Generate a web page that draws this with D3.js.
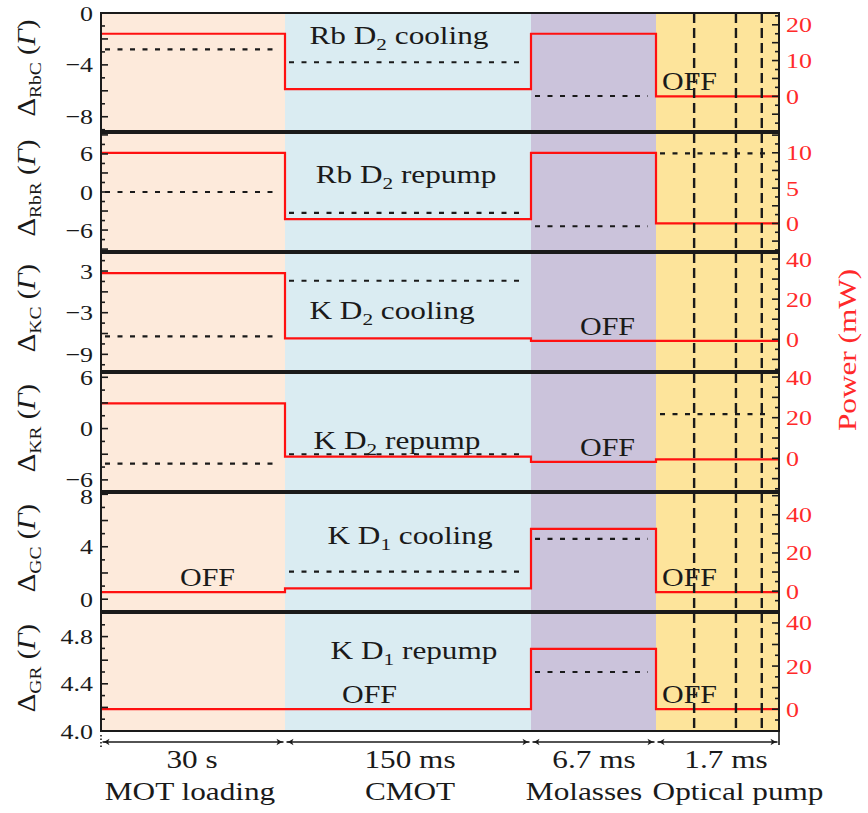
<!DOCTYPE html>
<html><head><meta charset="utf-8">
<script src="https://cdn.jsdelivr.net/npm/d3@7"></script>
<style>body{margin:0;background:#fff} svg{display:block}</style>
</head><body><svg id="c" width="868" height="813"></svg>
<script>
// ---------------- data ----------------
const phases = ["MOT loading", "CMOT", "Molasses", "Optical pump"];
const durations = ["30 s", "150 ms", "6.7 ms", "1.7 ms"];
const beamNames = [["Rb D", "2", " cooling"], ["Rb D", "2", " repump"], ["K D", "2", " cooling"],
                   ["K D", "2", " repump"], ["K D", "1", " cooling"], ["K D", "1", " repump"]];
const detuneSubs = ["RbC", "RbR", "KC", "KR", "GC", "GR"];
// laser power (mW) in each phase
const powerRbC = [17.5, 2, 17.5, 0];
const powerRbR = [10, 0.6, 10, 0];
const powerKC  = [33, 0.5, -0.8, -0.8];
const powerKR  = [27, 0.8, -1.8, -0.5];
const powerGC  = [-0.5, 1.5, 32.6, -0.5];
const powerGR  = [0, 0, 28, 0];
// detuning (Gamma) in each phase, null = beam off
const detRbC = [-2.8, -3.8, -6.4, null];
const detRbR = [0, -3.3, -5.4, 6.1];
const detKC  = [-6.4, 1.6, null, null];
const detKR  = [-4.1, -3.0, null, 1.7];
const detGC  = [null, 2.1, 4.6, null];
const detGR  = [null, null, 4.5, null];
// axes
const detDomains = [[-9.1, 0], [-9.3, 9.3], [-11.4, 5.6], [-7.3, 6.5], [-0.9, 8.1], [4.0, 5.0]];
const detTicks = [[0, -4, -8], [6, 0, -6], [3, -3, -9], [6, 0, -6], [8, 4, 0], [4.8, 4.4, 4.0]];
const powDomains = [[-9.7, 23.3], [-3.9, 12.8], [-15.8, 43], [-16.1, 42], [-10.4, 51.4], [-10.1, 44.6]];
const powTicks = [[0, 10, 20], [0, 5, 10], [0, 20, 40], [0, 20, 40], [0, 20, 40], [0, 20, 40]];
// "OFF" annotations: [panel, phase]
const offLabels = [[0, 3], [2, 2], [3, 2], [4, 0], [4, 3], [5, 1], [5, 3]];
// optical pumping pulse markers (in phase units)
const pumpPulses = [3.31, 3.65, 3.86];

const powers = [powerRbC, powerRbR, powerKC, powerKR, powerGC, powerGR];
const detunings = [detRbC, detRbR, detKC, detKR, detGC, detGR];

// ---------------- layout ----------------
const bounds = [101, 285, 531, 656, 779];
const panelTop0 = 13, pitch = 120, panelH = 118;
const phaseColors = ["#fdeadb", "#daecf2", "#cbc3db", "#fde49b"];
const beamLabelX = [399, 406, 392, 397, 410, 414];
const beamLabelDy = [31, 50, 66, 76, 51, 46];
const offDx = [79, 57, 49, 6];
const serif = "'Liberation Serif','Times New Roman',serif";
const ink = "#1a1a1a";

const svg = d3.select("#c");
const x = d3.scaleLinear().domain([0, 1, 2, 3, 4]).range(bounds);

function label(sel, px, py, parts, o = {}) {
  const size = o.size || 25;
  const t = sel.append("text")
    .attr("transform", `translate(${px},${py}) rotate(${o.rot || 0}) scale(${o.sx || 1.25},1)`)
    .attr("text-anchor", o.anchor || "middle")
    .attr("font-family", serif).attr("font-size", size)
    .attr("fill", o.fill || ink);
  let inSub = false;
  parts.forEach(p => {
    const [str, kind] = Array.isArray(p) ? p : [p, "n"];
    const ts = t.append("tspan").text(str);
    if (kind === "sub") {
      ts.attr("font-size", size * 0.68).attr("dy", size * 0.24);
      inSub = true;
    } else {
      if (inSub) { ts.attr("dy", -size * 0.24); inSub = false; }
      if (kind === "it") ts.attr("font-style", "italic");
    }
  });
  return t;
}
const fmt = v => (v < 0 ? "\u2212" : "") + Math.abs(v);

const arrowDefs = svg.append("defs");
arrowDefs.append("marker").attr("id", "ah").attr("viewBox", "-8 -4 9 8")
  .attr("refX", 0).attr("refY", 0).attr("markerWidth", 9).attr("markerHeight", 8)
  .attr("markerUnits", "userSpaceOnUse").attr("orient", "auto-start-reverse")
  .append("path").attr("d", "M-7,-3.2 Q-3,-0.5 0,0 Q-3,0.5 -7,3.2 L-5.5,0 Z").attr("fill", ink);

powers.forEach((pw, k) => {
  const top = panelTop0 + pitch * k, bot = top + panelH;
  const g = svg.append("g");
  const yL = d3.scaleLinear().domain(detDomains[k]).range([bot, top]);
  const yR = d3.scaleLinear().domain(powDomains[k]).range([bot, top]);

  // phase backgrounds
  g.selectAll("rect.bg").data(phases).join("rect")
    .attr("x", (d, i) => x(i)).attr("width", (d, i) => x(i + 1) - x(i))
    .attr("y", top).attr("height", panelH).attr("fill", (d, i) => phaseColors[i]);

  // detuning (dotted)
  detunings[k].forEach((d, i) => {
    if (d === null) return;
    g.append("line").attr("x1", x(i) + 4).attr("x2", x(i + 1) - 8)
      .attr("y1", yL(d)).attr("y2", yL(d))
      .attr("stroke", ink).attr("stroke-width", 2.2).attr("stroke-dasharray", "5,7.5");
  });

  // power (red step line)
  const pts = pw.map((p, i) => [i, p]).concat([[4, pw[pw.length - 1]]]);
  g.append("path").datum(pts)
    .attr("d", d3.line().x(d => x(d[0])).y(d => yR(d[1])).curve(d3.curveStepAfter))
    .attr("fill", "none").attr("stroke", "#ff1010").attr("stroke-width", 2.2);

  // beam name
  const nm = beamNames[k];
  label(g, beamLabelX[k], top + beamLabelDy[k], [nm[0], [nm[1], "sub"], nm[2]]);

  // OFF labels
  offLabels.filter(o => o[0] === k).forEach(o => {
    const ph = o[1];
    label(g, x(ph) + offDx[ph], yR(pw[ph]) - 6, ["OFF"], { anchor: "start", sx: 1.2 });
  });

  // frame
  g.append("rect").attr("x", bounds[0]).attr("y", top).attr("width", bounds[4] - bounds[0])
    .attr("height", panelH).attr("fill", "none").attr("stroke", ink).attr("stroke-width", 2);

  // left ticks
  const lt = detTicks[k], lstep = Math.abs(lt[0] - lt[1]) / 4;
  const ld = detDomains[k];
  for (let n = Math.ceil(ld[0] / lstep - 1e-6); n <= Math.floor(ld[1] / lstep + 1e-6); n++) {
    const yy = yL(n * lstep);
    if (yy < top + 1 || yy > bot - 1) continue;
    g.append("line").attr("x1", bounds[0]).attr("x2", bounds[0] + (n % 2 === 0 ? 7 : 4))
      .attr("y1", yy).attr("y2", yy).attr("stroke", ink).attr("stroke-width", 1.6);
  }
  lt.forEach(v => {
    const yy = yL(v);
    const nudge = (k > 0 && yy - top < 4) ? 2.5 : 0;
    label(g, 93, yy + 7.5 + nudge, [k === 5 ? v.toFixed(1) : fmt(v)], { anchor: "end", size: 22, sx: 1.18 });
  });

  // right ticks
  const rt = powTicks[k], rstep = Math.abs(rt[1] - rt[0]) / 4;
  const rd = powDomains[k];
  for (let n = Math.ceil(rd[0] / rstep); n <= Math.floor(rd[1] / rstep); n++) {
    const yy = yR(n * rstep);
    if (yy < top + 1 || yy > bot - 1) continue;
    g.append("line").attr("x1", bounds[4]).attr("x2", bounds[4] - (n % 2 === 0 ? 7 : 4))
      .attr("y1", yy).attr("y2", yy).attr("stroke", ink).attr("stroke-width", 1.6);
  }
  rt.forEach(v => {
    label(g, 786, yR(v) + 7.5, [fmt(v)], { anchor: "start", size: 22, sx: 1.18, fill: "#ff2a2a" });
  });

  // left axis title
  label(g, 35, (top + bot) / 2 - 4, ["\u0394", [detuneSubs[k], "sub"], " (", ["\u0393", "it"], ")"],
    { rot: -90, sx: 1.15 });
});

const lastBot = panelTop0 + pitch * 5 + panelH;

// optical pumping pulse markers
svg.selectAll("line.pulse").data(pumpPulses).join("line")
  .attr("x1", d => x(d)).attr("x2", d => x(d))
  .attr("y1", panelTop0).attr("y2", lastBot)
  .attr("stroke", ink).attr("stroke-width", 2.4).attr("stroke-dasharray", "10,5");

// right axis title
label(svg, 856, 350, ["Power (mW)"], { rot: -90, fill: "#ff2a2a", sx: 1.25 });

// time line
const ty = lastBot + 11;
svg.selectAll("line.seg").data(phases).join("line")
  .attr("x1", (d, i) => x(i) + 1.5).attr("x2", (d, i) => x(i + 1) - 1.5)
  .attr("y1", ty).attr("y2", ty).attr("stroke", ink).attr("stroke-width", 1.6)
  .attr("marker-start", "url(#ah)").attr("marker-end", "url(#ah)");
svg.append("line").attr("x1", bounds[0]).attr("x2", bounds[0]).attr("y1", lastBot + 4).attr("y2", ty + 6)
  .attr("stroke", ink).attr("stroke-width", 1.6).attr("stroke-dasharray", "1.5,2");
svg.append("line").attr("x1", bounds[4]).attr("x2", bounds[4]).attr("y1", lastBot).attr("y2", ty + 3)
  .attr("stroke", ink).attr("stroke-width", 1.6);

const phaseLabelX = [190, 410, 584, 738];
const durLabelX = [192, 410, 594, 726];
durations.forEach((d, i) => label(svg, durLabelX[i], 768, [d]));
phases.forEach((p, i) => label(svg, phaseLabelX[i], 800, [p]));
</script>
</body></html>
